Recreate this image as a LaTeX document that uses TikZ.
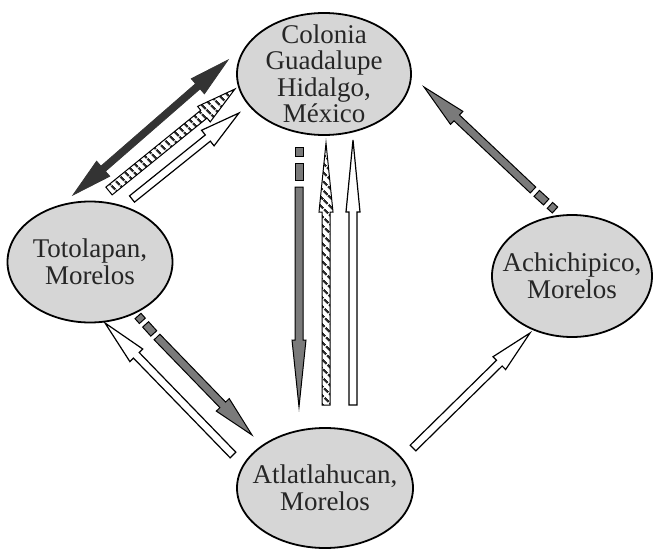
\documentclass[tikz,border=0pt]{standalone}
\usepackage{fontspec}
\setmainfont{Liberation Serif}
\usetikzlibrary{shapes.geometric,calc,patterns.meta}

\definecolor{placefill}{HTML}{D6D6D6}
\definecolor{placetext}{HTML}{262626}
\definecolor{arrgray}{HTML}{7A7A7A}
\definecolor{darkfill}{HTML}{333333}
\definecolor{hatchcol}{HTML}{2A2A2A}

% block arrow: style, tail, tip, shaft half width, head half width, head length
\newcommand\flowarrow[6]{%
  \coordinate (fa-h) at ($(#3)!#6!(#2)$);
  \path[#1] ($(#2)!#4!90:(#3)$) -- ($(fa-h)!#4!90:(#3)$) -- ($(fa-h)!#5!90:(#3)$) -- (#3)
    -- ($(fa-h)!#5!-90:(#3)$) -- ($(fa-h)!#4!-90:(#3)$) -- ($(#2)!#4!-90:(#3)$) -- cycle;
}
% block arrow with a head at both ends
\newcommand\twowayarrow[6]{%
  \coordinate (tw-a) at ($(#2)!#6!(#3)$);
  \coordinate (tw-b) at ($(#3)!#6!(#2)$);
  \path[#1] (#2) -- ($(tw-a)!#5!90:(#3)$) -- ($(tw-a)!#4!90:(#3)$) -- ($(tw-b)!#4!90:(#3)$)
    -- ($(tw-b)!#5!90:(#3)$) -- (#3) -- ($(tw-b)!#5!-90:(#3)$) -- ($(tw-b)!#4!-90:(#3)$)
    -- ($(tw-a)!#4!-90:(#3)$) -- ($(tw-a)!#5!-90:(#3)$) -- cycle;
}
% one rectangular piece of a broken tail
\newcommand\barpiece[4]{%
  \path[#1] ($(#2)!#4!90:(#3)$) -- ($(#3)!#4!-90:(#2)$) -- ($(#3)!#4!90:(#2)$) -- ($(#2)!#4!-90:(#3)$) -- cycle;
}
% broken tail: style, tail end, shaft start, half width
\newcommand\tailbits[4]{%
  \coordinate (tb-1) at ($(#2)!0.23!(#3)$);
  \coordinate (tb-2) at ($(#2)!0.40!(#3)$);
  \coordinate (tb-3) at ($(#2)!0.83!(#3)$);
  \barpiece{#1}{#2}{tb-1}{#4}
  \barpiece{#1}{tb-2}{tb-3}{#4}
}

\begin{document}
\begin{tikzpicture}[x=1pt,y=-1pt,
  place/.style={ellipse,draw=black,line width=1.8pt,fill=placefill,inner sep=0pt},
  placelabel/.style={align=center,text=placetext,inner sep=0pt,
    font=\fontsize{27}{26.5}\selectfont},
  grayarr/.style={fill=arrgray,draw=black,line width=1pt},
  whitearr/.style={fill=white,draw=black,line width=1.2pt},
  hatcharr/.style={preaction={fill=white},
    pattern={Lines[angle=-45,distance=6.5pt,line width=2.4pt]},pattern color=hatchcol,
    draw=black,line width=1pt},
  darkarr/.style={fill=darkfill,draw=darkfill,line width=0.8pt,line join=miter}]
\useasboundingbox (0,0) rectangle (653,551);

% places
\node[place,minimum width=174pt,minimum height=122pt] (col) at (324,74) {};
\node[placelabel] (colt) at (col) {Colonia\\Guadalupe\\Hidalgo,\\México};
\node[place,minimum width=165pt,minimum height=121pt] (tot) at (90,262) {};
\node[placelabel] (tott) at (tot) {Totolapan,\\Morelos};
\node[place,minimum width=160pt,minimum height=122pt] (ach) at (572,276) {};
\node[placelabel] (acht) at (ach) {Achichipico,\\Morelos};
\node[place,minimum width=176pt,minimum height=120pt] (atl) at (325,488) {};
\node[placelabel] (atlt) at (atl) {Atlatlahucan,\\Morelos};

% arrow ends
\coordinate (d1a) at (73,195);   \coordinate (d1b) at (228,60);
\coordinate (h1a) at (109,191);  \coordinate (h1b) at (235,89);
\coordinate (w1a) at (132,199);  \coordinate (w1b) at (239,113);
\coordinate (g1t) at (299,147);  \coordinate (g1s) at (299,187);  \coordinate (g1b) at (299,407);
\coordinate (h2a) at (326,405);  \coordinate (h2b) at (326,143);
\coordinate (w2a) at (353,405);  \coordinate (w2b) at (353,140);
\coordinate (g2t) at (555,210);  \coordinate (g2s) at (533,190);  \coordinate (g2b) at (424,87);
\coordinate (g3t) at (138,316);  \coordinate (g3s) at (157,337);  \coordinate (g3b) at (252,435);
\coordinate (w3a) at (233,455);  \coordinate (w3b) at (105,323);
\coordinate (w4a) at (413,448);  \coordinate (w4b) at (530,333);

% Totolapan <-> Colonia
\twowayarrow{darkarr}{d1a}{d1b}{3.4pt}{10pt}{40pt}
\flowarrow{hatcharr}{h1a}{h1b}{5pt}{10pt}{40pt}
\flowarrow{whitearr}{w1a}{w1b}{4pt}{10pt}{40pt}

% Colonia <-> Atlatlahucan
\tailbits{grayarr}{g1t}{g1s}{4pt}
\flowarrow{grayarr}{g1s}{g1b}{4pt}{7pt}{67pt}
\flowarrow{hatcharr}{h2a}{h2b}{4pt}{7pt}{69pt}
\flowarrow{whitearr}{w2a}{w2b}{4pt}{7pt}{72pt}

% Achichipico -> Colonia
\tailbits{grayarr}{g2t}{g2s}{4pt}
\flowarrow{grayarr}{g2s}{g2b}{4pt}{9pt}{45pt}

% Totolapan <-> Atlatlahucan
\tailbits{grayarr}{g3t}{g3s}{4pt}
\flowarrow{grayarr}{g3s}{g3b}{4pt}{9pt}{42pt}
\flowarrow{whitearr}{w3a}{w3b}{4pt}{9pt}{45pt}

% Atlatlahucan -> Achichipico
\flowarrow{whitearr}{w4a}{w4b}{4pt}{9pt}{43pt}
\end{tikzpicture}
\end{document}
